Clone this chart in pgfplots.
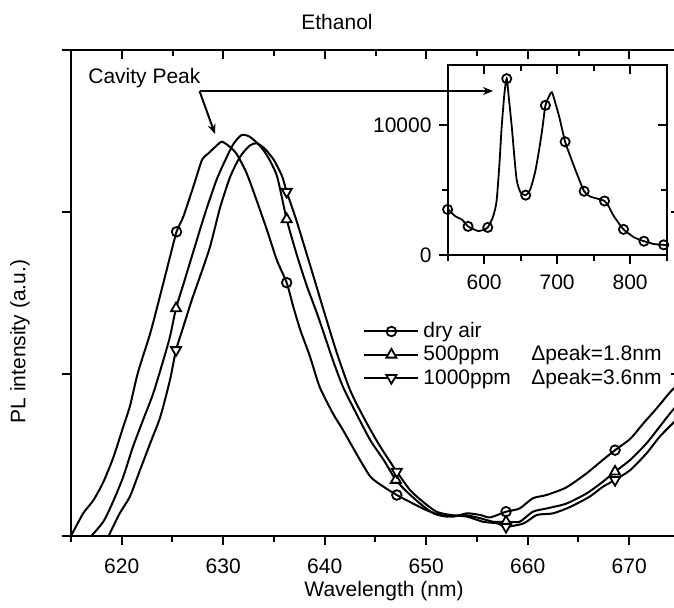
\documentclass[border=0pt]{standalone}
\usepackage{fontspec}
\setmainfont{Liberation Sans}
\usepackage{pgfplots}
\pgfplotsset{compat=1.18}
\usetikzlibrary{arrows.meta}

\pgfplotsset{
  base/.style={
    scale only axis,
    /pgf/number format/assume math mode=true,
    axis line style={line width=1pt},
    tick style={line width=1pt, black},
    major tick length=4.5pt, minor tick length=3pt,
    tick label style={font=\fontsize{10.5}{12}\selectfont},
    label style={font=\fontsize{10.5}{12}\selectfont},
  },
  mirror/.style={
    axis line style={draw=none},
    xtick pos=top, ytick pos=right, tick align=inside,
    xticklabels={}, yticklabels={},
  },
  mainlim/.style={
    at={(0,0)}, anchor=south west,
    width=304.5pt, height=243pt,
    xmin=615, xmax=675, ymin=0, ymax=3,
    xtick={620,630,...,670}, minor xtick={615,625,...,675},
    ytick={0,1,2,3},
  },
  inslim/.style={
    at={(188.3pt,140.5pt)}, anchor=south west,
    width=109.5pt, height=95pt,
    xmin=550, xmax=850, ymin=0, ymax=14600,
    xtick={600,700,800}, minor xtick={550,650,750,850},
    ytick={0,10000}, minor ytick={5000},
    scaled y ticks=false,
    /pgf/number format/1000 sep={},
  },
  curve/.style={black, line width=1pt, smooth, tension=0.4, no marks},
  dot/.style={only marks, mark=o, mark size=2.4pt,
    mark options={solid, fill=white, line width=0.9pt}},
  up/.style={only marks, mark=triangle*, mark size=2.9pt,
    mark options={solid, fill=white, line width=0.9pt}},
  down/.style={only marks, mark=triangle*, mark size=2.9pt,
    mark options={solid, fill=white, line width=0.9pt, rotate=180}},
}

\begin{document}
\begin{tikzpicture}[font=\fontsize{10.5}{12}\selectfont]

\begin{axis}[base, mainlim,
  tick align=outside, xtick pos=bottom, ytick pos=left,
  yticklabels={},
  xticklabel style={yshift=-3.5pt},
  xlabel={Wavelength (nm)},
  ylabel={PL intensity (a.u.)},
  title={Ethanol},
  every axis title shift=0pt,
  title style={at={(axis description cs:0.4368,1.0412)}, anchor=base, yshift=0pt,
    font=\fontsize{10.5}{12}\selectfont},
  xlabel style={at={(axis description cs:0.514,-0.124)}, anchor=base},
  ylabel style={at={(axis description cs:-0.084,0.40)}, anchor=center},
  legend style={at={(axis description cs:0.4795,0.4486)}, anchor=north west,
    draw=none, fill=none, inner sep=0pt, row sep=-1.5pt,
    font=\fontsize{10.5}{12}\selectfont},
  legend cell align=left,
  legend image code/.code={
    \draw[#1, mark repeat=2, mark phase=2] plot coordinates {(0pt,0pt) (13.5pt,0pt) (27pt,0pt)};
  },
]
% dry air
\addplot[curve, forget plot] coordinates {
(615.0,0.0) (616.2,0.14) (617.2,0.22) (618.2,0.335) (619.2,0.49) (620.15,0.675)
(620.8,0.80) (621.6,1.01) (622.8,1.25) (623.6,1.44) (624.5,1.66) (625.4,1.878)
(626.06,1.97) (627.05,2.156) (627.9,2.32) (628.5,2.36) (629.35,2.41) (629.85,2.434)
(630.5,2.41) (631.3,2.36) (632.3,2.24) (633.3,2.07) (634.3,1.89) (635.3,1.70)
(636.25,1.564) (636.9,1.415) (637.6,1.27) (638.55,1.107) (639.5,0.92) (640.8,0.757)
(641.8,0.654) (643.1,0.51) (644.5,0.366) (645.8,0.304) (647.1,0.253) (648.4,0.21)
(650.0,0.16) (651.35,0.13) (652.7,0.12) (654.0,0.14) (655.3,0.13) (656.3,0.115)
(657.86,0.15) (659.2,0.17) (660.5,0.233) (661.85,0.253) (663.8,0.30) (665.8,0.387)
(667.4,0.47) (668.6,0.53) (670.1,0.60) (671.4,0.696) (672.7,0.788) (674.2,0.90) (675.5,0.97)
};
% 500 ppm
\addplot[curve, forget plot] coordinates {
(617.0,0.0) (618.2,0.09) (619.2,0.22) (620.15,0.366) (621.1,0.55) (622.1,0.716)
(623.1,0.88) (624.1,1.086) (624.75,1.23) (625.35,1.405) (626.2,1.58) (627.2,1.786)
(628.2,1.99) (629.35,2.20) (630.2,2.32) (631.0,2.42) (631.8,2.475) (632.6,2.465)
(633.6,2.41) (634.4,2.34) (635.3,2.22) (636.25,1.955) (637.2,1.745) (638.2,1.55)
(639.35,1.354) (640.8,1.086) (641.8,0.92) (643.1,0.757) (644.5,0.59) (645.8,0.47)
(647.0,0.346) (648.1,0.273) (649.4,0.20) (650.7,0.14) (652.0,0.12) (653.7,0.13)
(655.3,0.11) (656.6,0.088) (657.86,0.088) (659.2,0.088) (660.5,0.15) (661.85,0.17)
(663.8,0.20) (665.8,0.263) (667.4,0.335) (668.6,0.397) (670.1,0.47) (671.7,0.572)
(673.0,0.675) (674.3,0.778) (675.5,0.85)
};
% 1000 ppm
\addplot[curve, forget plot] coordinates {
(618.7,0.0) (619.8,0.14) (620.8,0.243) (621.8,0.407) (622.8,0.572) (623.8,0.736)
(624.75,0.963) (625.35,1.148) (626.06,1.29) (626.9,1.457) (627.7,1.60) (628.7,1.786)
(629.7,2.03) (630.7,2.22) (631.65,2.34) (632.6,2.41) (633.3,2.424) (634.1,2.39)
(635.0,2.32) (635.8,2.22) (636.25,2.125) (637.2,1.95) (638.2,1.745) (639.0,1.58)
(639.86,1.40) (641.2,1.128) (642.5,0.90) (643.8,0.736) (645.1,0.59) (646.1,0.49)
(647.1,0.397) (648.4,0.284) (649.7,0.21) (651.0,0.15) (652.35,0.13) (654.0,0.12)
(655.6,0.088) (657.0,0.078) (657.86,0.057) (659.6,0.078) (660.9,0.13) (662.5,0.14)
(664.2,0.18) (666.1,0.243) (667.4,0.304) (668.6,0.346) (670.1,0.407) (671.7,0.51)
(673.0,0.613) (674.3,0.696) (675.5,0.77)
};
% markers
\addplot[dot, forget plot] coordinates {(625.4,1.878) (636.25,1.564) (647.1,0.253) (657.86,0.15) (668.6,0.53)};
\addplot[up, forget plot] coordinates {(625.35,1.405) (636.25,1.955) (647.0,0.346) (657.86,0.088) (668.6,0.397)};
\addplot[down, forget plot] coordinates {(625.35,1.148) (636.25,2.125) (647.1,0.397) (657.86,0.057) (668.6,0.346)};

\addlegendimage{black, line width=1pt, mark=o, mark size=2.4pt, mark options={solid, fill=white, line width=0.9pt}}
\addlegendentry{dry air}
\addlegendimage{black, line width=1pt, mark=triangle*, mark size=2.9pt, mark options={solid, fill=white, line width=0.9pt}}
\addlegendentry{\makebox[54pt][l]{500ppm}Δpeak=1.8nm}
\addlegendimage{black, line width=1pt, mark=triangle*, mark size=2.9pt, mark options={solid, fill=white, line width=0.9pt, rotate=180}}
\addlegendentry{\makebox[54pt][l]{1000ppm}Δpeak=3.6nm}
\end{axis}

\begin{axis}[base, mainlim, mirror]
\end{axis}

% inset
\begin{axis}[base, inslim,
  tick align=outside, xtick pos=bottom, ytick pos=left,
  xticklabel style={yshift=-2pt},
]
\addplot[curve, line width=0.9pt] coordinates {
(550,3575) (560,3000) (570,2700) (578,2200) (585,2000) (592,1840) (600,1950)
(605,2120) (612,2900) (617,4100) (621,7000) (624,9800) (628,12500) (631,13550)
(634,12000) (638,9800) (642,7200) (645,5650) (650,4800) (657,4600) (663,5000)
(670,6400) (676,8300) (680,9800) (684,11500) (689,12200) (693,12500) (698,11600)
(703,10600) (711,8700) (718,7600) (726,6400) (737,4900) (745,4500) (754,4350)
(765,4150) (771,3700) (777,3050) (785,2400) (791,1970) (798,1650) (805,1370)
(812,1200) (819,1060) (826,950) (832,850) (840,800) (846,780) (850,760)
};
\addplot[dot, mark size=2.3pt] coordinates {
(550,3500) (578,2200) (605,2120) (631,13550) (657,4600) (684,11500)
(711,8700) (737,4900) (765,4150) (791,1970) (819,1060) (846,780)
};
\end{axis}
\begin{axis}[base, inslim, mirror]
\end{axis}

% annotation, in reference pixel coordinates
\begin{scope}[shift={(-35.5pt,268pt)}, x=0.5pt, y=-0.5pt]
  \node[anchor=base west, inner sep=0pt] at (88,83.3) {Cavity Peak};
  \draw[line width=1pt, -{Stealth[length=5pt, width=4pt]}] (199.5,91) -- (215,134);
  \draw[line width=1pt, -{Stealth[length=5pt, width=4pt]}] (199.5,91) -- (493,91);
\end{scope}

\pgfresetboundingbox
\useasboundingbox (-35.5pt,-35.5pt) rectangle (301.5pt,268pt);
\end{tikzpicture}
\end{document}
